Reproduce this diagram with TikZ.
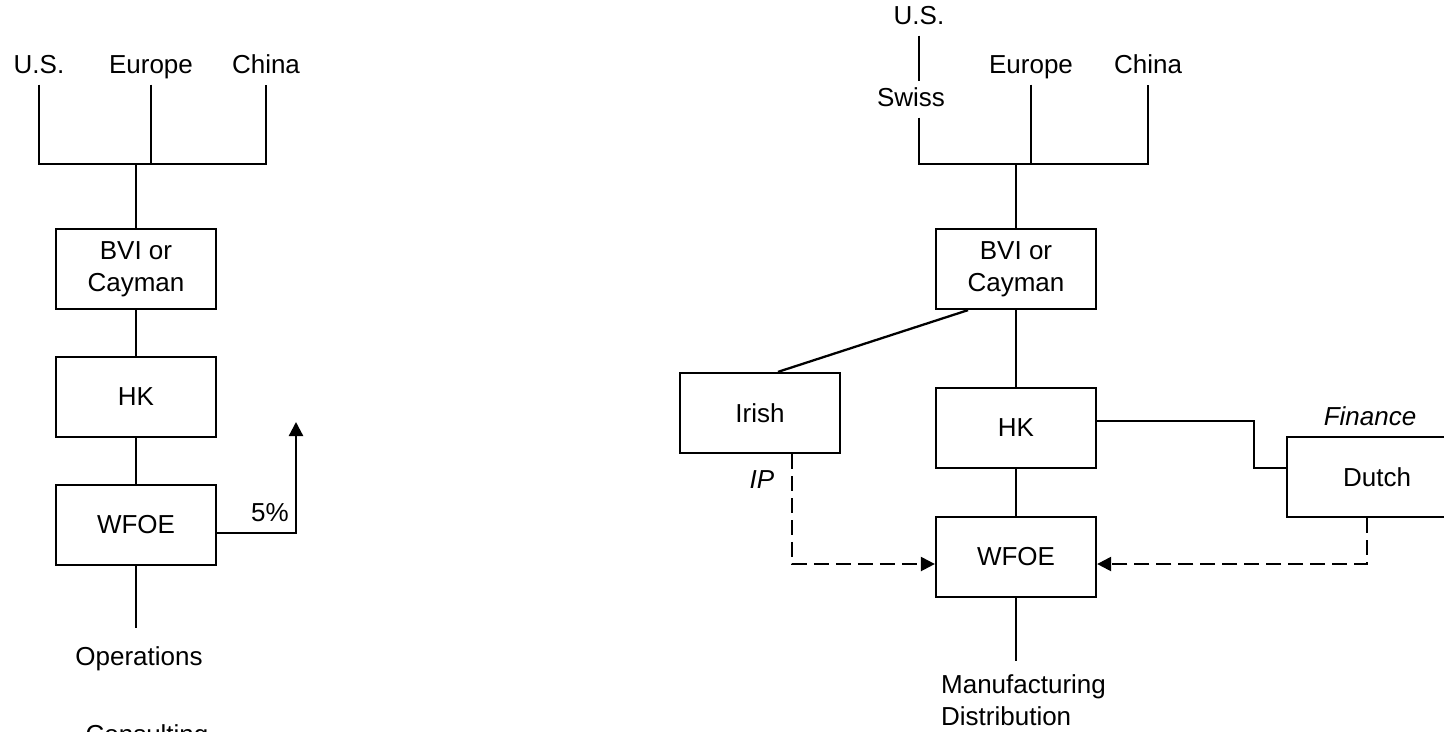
\documentclass[tikz,border=0pt]{standalone}
\usepackage{fontspec}
\setmainfont{Liberation Sans}
\usetikzlibrary{arrows.meta}
\begin{document}
\begin{tikzpicture}[x=0.02cm,y=-0.02cm,>={Triangle[length=8pt,width=8pt]},line width=1.3pt,
  every node/.style={font=\fontsize{14.8}{18}\selectfont},
  box/.style={draw,minimum width=3.2cm,minimum height=1.6cm,align=center,inner sep=2pt},
  lbl/.style={anchor=base,inner sep=3pt,text height=10.5pt,text depth=3pt},
  it/.style={font=\fontsize{14.8}{18}\selectfont\itshape},
  dsh/.style={dash pattern=on 8.5pt off 4pt}]
\useasboundingbox (0,0) rectangle (1444,731);
\node[lbl] (US) at (39,73) {U.S.};
\node[lbl] (EU) at (151,73) {Europe};
\node[lbl] (CN) at (266,73) {China};
\coordinate (J) at (136,164);
\node[box] (BVI) at (136,269) {BVI or\\Cayman};
\node[box] (HK) at (136,397) {HK};
\node[box] (WF) at (136,525) {WFOE};
\node[lbl] (OP) at (139,665) {Operations};
\node[lbl] (CO) at (147,743) {Consulting};
\coordinate (T) at (296,422);
\node[lbl] (P) at (270,521) {5\%};
\draw (US.south) |- (J) -| (CN.south);
\draw (EU.south) -- (EU.south |- J);
\draw (J) -- (BVI) -- (HK) -- (WF);
\draw[shorten >=0.24cm] (WF.south) -- (WF.south |- OP.north);
\draw[->] ([yshift=-0.16cm]WF.east) -| (T);

\node[lbl] (US2) at (919,24) {U.S.};
\node[lbl] (SW) at (911,106) {Swiss};
\node[lbl] (EU2) at (1031,73) {Europe};
\node[lbl] (CN2) at (1148,73) {China};
\coordinate (J2) at (1016,164);
\node[box] (BVI2) at (1016,269) {BVI or\\Cayman};
\node[box] (IR) at (760,413) {Irish};
\node[box] (HK2) at (1016,428) {HK};
\node[box] (WF2) at (1016,557) {WFOE};
\node[box,minimum width=3.6cm] (NL) at (1377,477) {Dutch};
\node[lbl,it] (IP) at (762,488) {IP};
\node[lbl,it] (FI) at (1370,425) {Finance};
\node[anchor=north west,inner sep=0pt,align=left] (MD) at (940,674) {Manufacturing\\Distribution};
\coordinate (B) at (1254,468);
\draw (US2.south) -- (US2.south |- SW.north);
\draw (SW.south -| US2) |- (J2) -| (CN2.south);
\draw (EU2.south) -- (EU2.south |- J2);
\draw (J2) -- (BVI2) -- (HK2) -- (WF2);
\draw ([xshift=-0.96cm]BVI2.south) -- ([xshift=0.36cm]IR.north);
\draw ([yshift=0.14cm]HK2.east) -| (B) -- (B -| NL.west);
\draw[->,dsh] ([xshift=0.64cm]IR.south) |- ([yshift=-0.14cm]WF2.west);
\draw[->,dsh] ([xshift=-0.2cm]NL.south) |- ([yshift=-0.14cm]WF2.east);
\draw[shorten >=0.26cm] (WF2.south) -- (WF2.south |- MD.north);
\end{tikzpicture}
\end{document}
